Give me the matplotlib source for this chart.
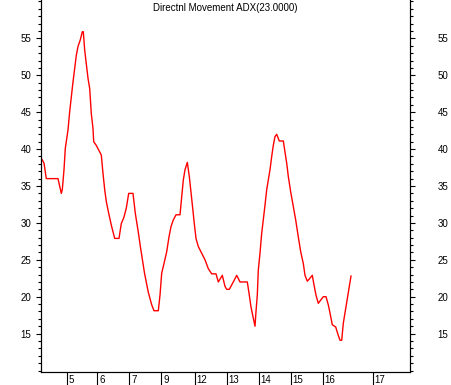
import matplotlib
matplotlib.use('Agg')
import matplotlib.pyplot as plt
from matplotlib.ticker import MultipleLocator
from matplotlib import transforms

# bar position (time axis) and ADX value
bar = [1.0, 3.0, 5.3, 17.0, 20.3, 21.3, 23.0, 24.3, 27.0, 28.7, 30.3, 32.0, 33.7,
       35.3, 37.0, 39.3, 41.3, 42.3, 43.7, 45.3, 47.0, 48.7, 50.3, 52.0, 52.7,
       55.3, 58.7, 60.3, 62.0, 63.7, 65.3, 67.7, 70.3, 73.7, 78.0, 80.3, 83.0,
       85.3, 87.7, 92.0, 94.3, 97.0, 99.7, 103.5, 107.3, 110.7, 113.0, 117.3,
       119.0, 120.7, 123.0, 125.7, 128.0, 130.0, 132.3, 135.0, 139.0, 140.7,
       142.3, 144.0, 146.3, 148.3, 150.0, 151.7, 153.3, 155.0, 157.3, 160.7,
       164.0, 167.3, 170.7, 175.0, 177.3, 181.3, 184.0, 185.7, 188.3, 192.3,
       195.7, 199.0, 206.3, 208.0, 210.0, 212.3, 214.0, 215.0, 216.3, 217.3,
       219.0, 220.7, 222.3, 224.0, 225.7, 227.3, 229.0, 230.7, 232.3, 234.0,
       235.7, 238.3, 242.3, 244.0, 245.7, 247.3, 249.7, 252.3, 254.7, 257.3,
       259.7, 262.3, 264.0, 266.3, 268.3, 271.3, 273.0, 275.0, 277.3, 280.0,
       282.3, 285.0, 287.3, 289.0, 291.3, 294.7, 296.7, 299.0, 300.7, 302.3,
       304.7, 307.3, 310.0]
adx = [38.6, 38.1, 36.0, 36.0, 34.0, 34.5, 37.2, 40.1, 42.6, 45.1, 47.1, 49.1, 50.9,
       52.7, 53.9, 54.8, 55.9, 55.9, 53.4, 51.6, 49.6, 48.2, 44.8, 42.8, 41.0,
       40.5, 39.6, 39.2, 36.7, 34.5, 32.9, 31.3, 29.7, 27.9, 27.9, 29.9, 30.8,
       32.0, 34.0, 34.0, 31.3, 29.0, 26.5, 23.2, 20.6, 18.9, 18.1, 18.1,
       20.2, 23.2, 24.5, 26.1, 28.1, 29.5, 30.4, 31.1, 31.1, 33.5,
       35.8, 37.2, 38.2, 36.3, 34.2, 32.0, 29.9, 27.9, 26.8, 25.9,
       25.0, 23.8, 23.1, 23.1, 22.0, 22.9, 21.4, 21.0, 21.0, 22.0,
       22.9, 22.0, 22.0, 20.5, 18.6, 17.1, 16.0, 18.0, 20.2, 23.6,
       25.9, 28.6, 30.4, 32.4, 34.5, 35.8, 37.2, 39.0, 40.5, 41.7,
       42.0, 41.1, 41.1, 39.6, 38.1, 36.3, 34.2, 32.2, 30.4, 28.1,
       26.1, 24.5, 22.9, 22.1, 22.4, 22.9, 21.6, 20.2, 19.1, 19.6,
       20.0, 20.0, 18.9, 17.8, 16.2, 15.9, 15.0, 14.1, 14.1, 16.4,
       18.4, 20.5, 22.8]

tick_pos = [25.7, 56.3, 88.3, 120.0, 153.5, 185.7, 217.7, 249.7, 281.7, 331.7]
tick_lab = ['5', '6', '7', '9', '12', '13', '14', '15', '16', '17']
y_major = [15, 20, 25, 30, 35, 40, 45, 50, 55]
title = 'Directnl Movement ADX(23.0000)'

plt.rcParams['font.family'] = ['Liberation Sans', 'DejaVu Sans']

fig = plt.figure(figsize=(4.51, 3.85), dpi=100)
ax = fig.add_axes([41 / 451, 13 / 385, 369 / 451, 372 / 385])
ax.plot(bar, adx, color='red', lw=1.0)
ax.set_xlim(0, 369)
ax.set_ylim(9.8, 60.2)

ax.spines['top'].set_visible(False)
for side in ['left', 'right', 'bottom']:
    ax.spines[side].set_linewidth(0.8)

ax.set_yticks(y_major)
ax.yaxis.set_minor_locator(MultipleLocator(1))
ax.tick_params(axis='y', which='major', length=3.5, width=0.8, pad=3.5, labelsize=7)
ax.tick_params(axis='y', which='minor', length=2.2, width=0.8)

ax.set_xticks(tick_pos)
ax.set_xticklabels([])
ax.tick_params(axis='x', which='major', length=9.5, width=0.8, direction='out')

trans = transforms.offset_copy(ax.get_xaxis_transform(), fig=fig, x=2, y=0, units='dots')
for p, lab in zip(tick_pos, tick_lab):
    ax.text(p, -8 / 372, lab, transform=trans, ha='left', va='center', fontsize=7)

ax2 = ax.twinx()
ax2.set_ylim(ax.get_ylim())
ax2.spines['top'].set_visible(False)
ax2.spines['right'].set_linewidth(0.8)
ax2.set_yticks(y_major)
ax2.yaxis.set_minor_locator(MultipleLocator(1))
ax2.tick_params(axis='y', which='major', length=3.5, width=0.8, pad=16.5, labelsize=7)
ax2.tick_params(axis='y', which='minor', length=2.2, width=0.8)

ax.text(0.5, 1 - 8 / 372, title, transform=ax.transAxes, ha='center', va='center',
        fontsize=7)

fig.savefig('out.png', dpi=100)
